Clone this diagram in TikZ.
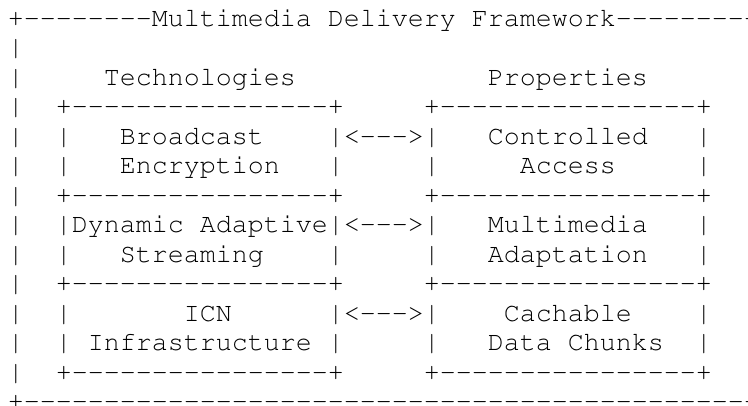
\documentclass[tikz,border=0pt]{standalone}
\usepackage[T1,TU]{fontenc}

\newcommand{\dashes}[1]{\foreach \i in {1,...,#1}{-{}}}

\tikzset{
  ascii/.style={anchor=base west, inner sep=0pt, outer sep=0pt,
    font=\fontencoding{T1}\fontfamily{pcr}\fontsize{13.33pt}{14.73pt}\selectfont},
}

\begin{document}
\begin{tikzpicture}
    \useasboundingbox (0,0) rectangle (374pt,-203pt);
    \clip (0,0) rectangle (374pt,-203pt);

    % one node per text line, ~ keeps the columns
    \foreach \k/\txt in {
      1/{+\dashes{8}Multimedia Delivery Framework\dashes{11}},
      2/{|},
      3/{|~~~~~Technologies~~~~~~~~~~~~Properties},
      4/{|~~+\dashes{16}+~~~~~+\dashes{16}+},
      5/{|~~|~~~Broadcast~~~~|<-{}-{}->|~~~Controlled~~~|},
      6/{|~~|~~~Encryption~~~|~~~~~|~~~~~Access~~~~~|},
      7/{|~~+\dashes{16}+~~~~~+\dashes{16}+},
      8/{|~~|Dynamic~Adaptive|<-{}-{}->|~~~Multimedia~~~|},
      9/{|~~|~~~Streaming~~~~|~~~~~|~~~Adaptation~~~|},
      10/{|~~+\dashes{16}+~~~~~+\dashes{16}+},
      11/{|~~|~~~~~~~ICN~~~~~~|<-{}-{}->|~~~~Cachable~~~~|},
      12/{|~~|~Infrastructure~|~~~~~|~~~Data~Chunks~~|},
      13/{|~~+\dashes{16}+~~~~~+\dashes{16}+},
      14/{+\dashes{48}}}
      \node[ascii] (row\k) at (4pt,{-13.25pt-(\k-1)*14.73pt}) {\txt};
\end{tikzpicture}
\end{document}
